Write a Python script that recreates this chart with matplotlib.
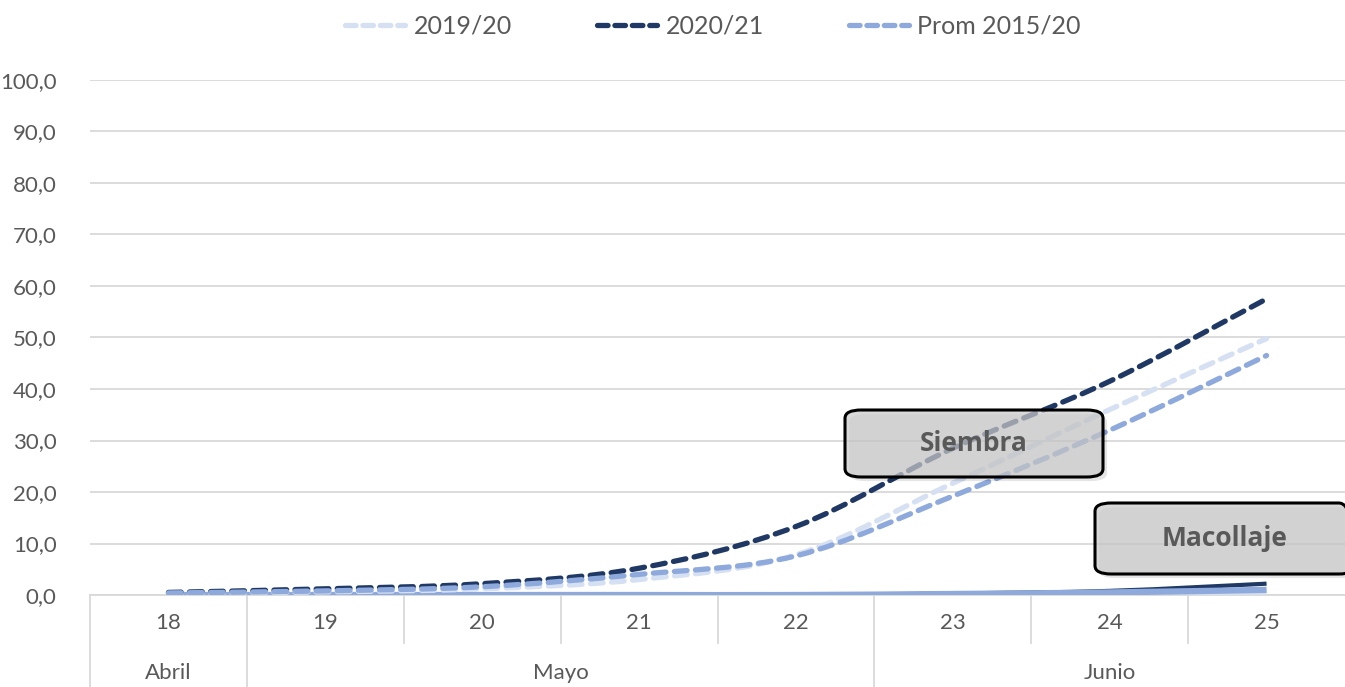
import matplotlib
matplotlib.use("Agg")
import matplotlib.pyplot as plt
from matplotlib.path import Path
from matplotlib.patches import PathPatch, FancyBboxPatch
from matplotlib.lines import Line2D
from matplotlib.ticker import FuncFormatter

plt.rcParams['font.family'] = ['Lato', 'DejaVu Sans']

# datos
dias = ["18", "19", "20", "21", "22", "23", "24", "25"]
meses = ["Abril", "Mayo", "Junio"]
mes_inicio = [0, 1, 5]
mes_fin = [0, 4, 7]

siembra_1920 = [0.3, 0.6, 1.2, 3.0, 7.8, 21.7, 36.0, 49.8]
siembra_2021 = [0.5, 1.2, 2.2, 5.2, 13.3, 28.5, 41.5, 57.5]
siembra_prom = [0.4, 0.8, 1.6, 4.0, 7.6, 19.2, 32.0, 46.5]

macoll_1920 = [0.0, 0.0, 0.0, 0.0, 0.0, 0.1, 0.3, 0.6]
macoll_2021 = [0.0, 0.0, 0.0, 0.0, 0.0, 0.3, 0.8, 2.2]
macoll_prom = [0.0, 0.0, 0.0, 0.0, 0.0, 0.2, 0.5, 1.0]

nombres = ["2019/20", "2020/21", "Prom 2015/20"]
colores = ["#D6E0F3", "#1F3864", "#8EA9DB"]
gris = "#595959"


def curva_suave(x, y):
    # curva tipo "linea suavizada" de Excel (bezier cubica)
    verts = [(x[0], y[0])]
    codes = [Path.MOVETO]
    n = len(x)
    for i in range(n - 1):
        x0, y0 = x[max(i - 1, 0)], y[max(i - 1, 0)]
        x1, y1 = x[i], y[i]
        x2, y2 = x[i + 1], y[i + 1]
        x3, y3 = x[min(i + 2, n - 1)], y[min(i + 2, n - 1)]
        c1 = (x1 + (x2 - x0) / 6, y1 + (y2 - y0) / 6)
        c2 = (x2 - (x3 - x1) / 6, y2 - (y3 - y1) / 6)
        verts += [c1, c2, (x2, y2)]
        codes += [Path.CURVE4] * 3
    return Path(verts, codes)


fig = plt.figure(figsize=(13.45, 6.87), dpi=100)
ax = fig.add_axes([90 / 1345, 1 - 595 / 687, 1 - 90 / 1345, (595 - 80) / 687])

x = list(range(len(dias)))
ax.set_xlim(-0.5, 7.5)
ax.set_ylim(0, 100)

# macollaje (lineas continuas)
for serie, c, w in zip([macoll_1920, macoll_2021, macoll_prom],
                       [colores[0], colores[1], colores[2]], [4, 3, 4.5]):
    ax.add_patch(PathPatch(curva_suave(x, serie), fill=False, edgecolor=c, lw=w,
                           capstyle='butt', zorder=3))

# siembra (lineas punteadas)
for serie, c in zip([siembra_1920, siembra_2021, siembra_prom], colores):
    ax.add_patch(PathPatch(curva_suave(x, serie), fill=False, edgecolor=c, lw=3.8,
                           linestyle=(0, (2.4, 1.6)), capstyle='round', zorder=3))

ax.set_yticks(range(0, 101, 10))
ax.yaxis.set_major_formatter(FuncFormatter(lambda v, p: f"{v:.1f}".replace(".", ",")))
ax.grid(axis='y', color="#D9D9D9", lw=1.3)
ax.set_axisbelow(True)
ax.tick_params(axis='y', length=0, labelsize=16, labelcolor=gris, pad=24)
for s in ["top", "right", "left"]:
    ax.spines[s].set_visible(False)
ax.spines["bottom"].set_color("#D9D9D9")
ax.spines["bottom"].set_linewidth(1.3)

ax.set_xticks(x)
ax.set_xticklabels(dias)
ax.tick_params(axis='x', length=0, labelsize=16, labelcolor=gris, pad=13)

# separadores del eje de categorias
trans = ax.get_xaxis_transform()
limites_mes = [-0.5] + [f + 0.5 for f in mes_fin[:-1]]
for i in range(len(dias)):
    b = i - 0.5
    bajo = -0.178 if b in limites_mes else -0.093
    ax.plot([b, b], [0, bajo], transform=trans, color="#D9D9D9", lw=1.3, clip_on=False)
for m, a, b in zip(meses, mes_inicio, mes_fin):
    ax.text((a + b) / 2, -0.151, m, transform=trans, ha='center', va='center',
            fontsize=16, color=gris)

# cuadros de fase
for texto, (x0, y0, w, h) in [("Siembra", (845, 410, 258, 67)), ("Macollaje", (1095, 503, 260, 71))]:
    sombra = FancyBboxPatch((x0 / 1345 + 0.003, 1 - (y0 + h) / 687 - 0.006), w / 1345, h / 687,
                            boxstyle="round,pad=0,rounding_size=0.012", transform=fig.transFigure,
                            facecolor="#000000", alpha=0.10, edgecolor='none', zorder=4)
    caja = FancyBboxPatch((x0 / 1345, 1 - (y0 + h) / 687), w / 1345, h / 687,
                          boxstyle="round,pad=0,rounding_size=0.012", transform=fig.transFigure,
                          facecolor="#CBCBCB", alpha=0.72, edgecolor="none", zorder=5)
    borde = FancyBboxPatch((x0 / 1345, 1 - (y0 + h) / 687), w / 1345, h / 687,
                           boxstyle="round,pad=0,rounding_size=0.012", transform=fig.transFigure,
                           facecolor="none", edgecolor="black", lw=2.2, zorder=5)
    fig.patches.extend([sombra, caja, borde])
    fig.text((x0 + w / 2) / 1345, 1 - (y0 + h / 2) / 687, texto, ha='center', va='center',
             fontsize=19, fontweight='bold', color=gris, family=['Open Sans', 'DejaVu Sans'], zorder=6)

handles = [Line2D([0], [0], color=c, lw=3.8, linestyle=(0, (2.0, 1.3)), dash_capstyle='round')
           for c in colores]
fig.legend(handles, nombres, loc='center', bbox_to_anchor=(0.53, 0.962), ncol=3, frameon=False,
           fontsize=18, labelcolor=gris, handlelength=2.4, columnspacing=3.4, handletextpad=0.35)

fig.savefig("out.png", dpi=100)
